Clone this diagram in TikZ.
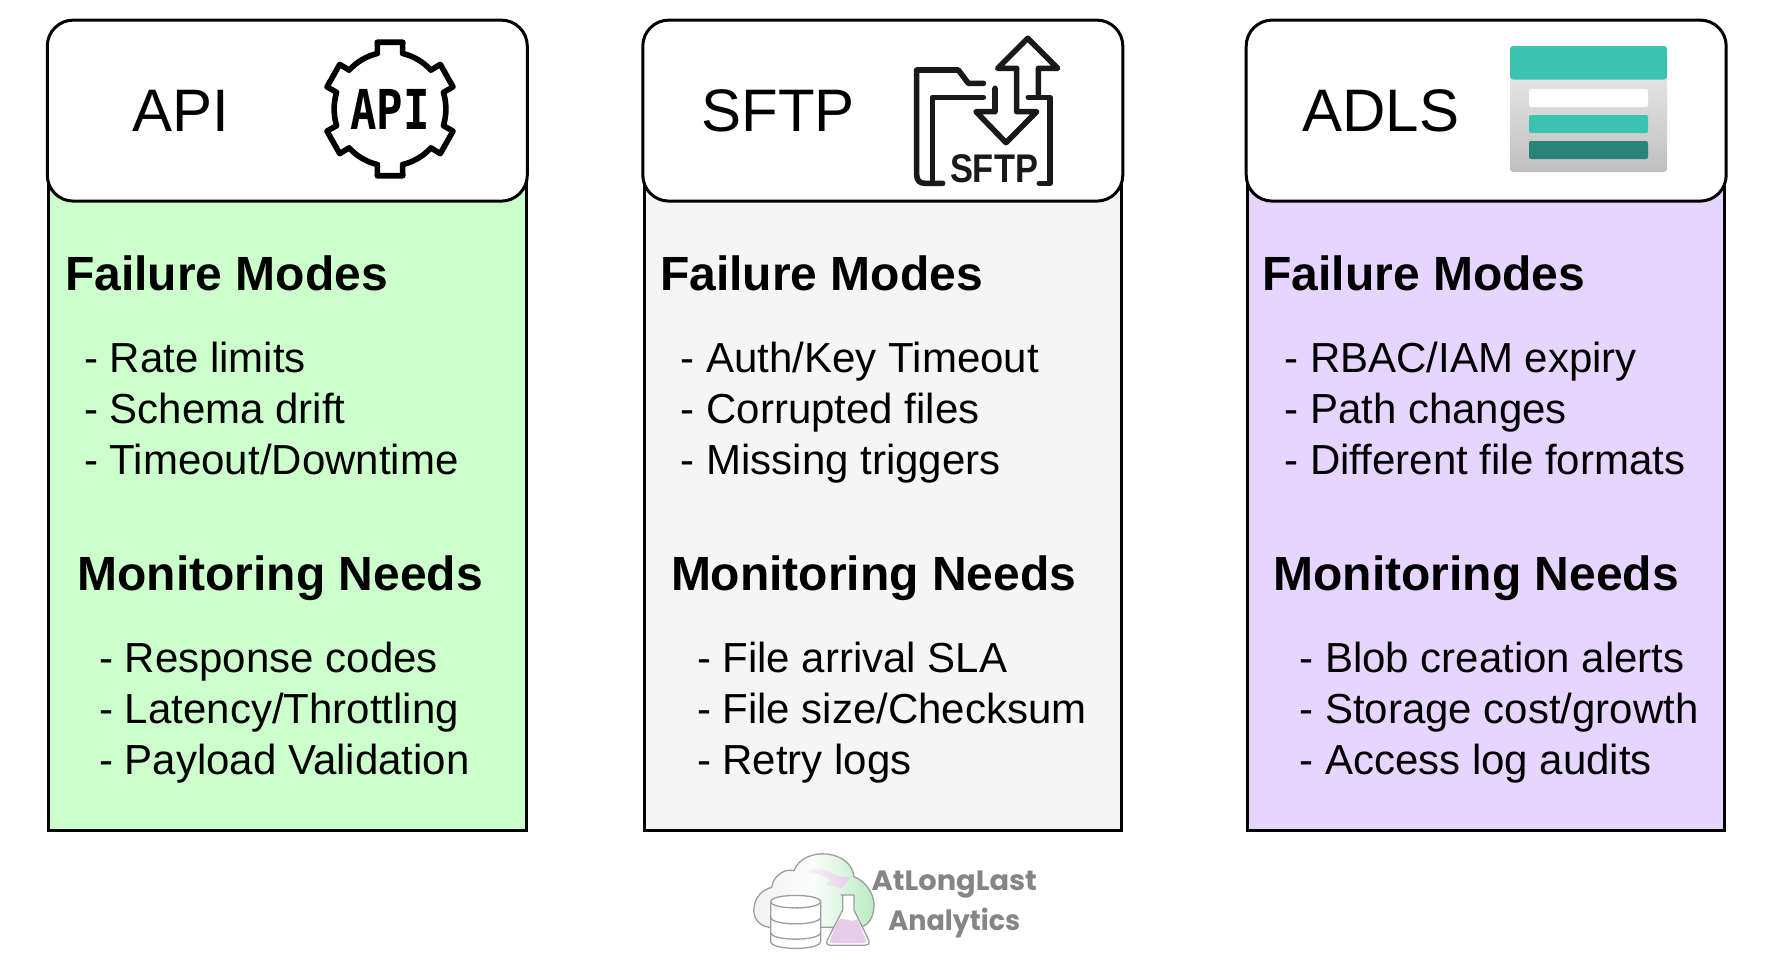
\documentclass[tikz,border=0pt]{standalone}
\usepackage{fontspec}
\setmainfont{Liberation Sans}
\newfontfamily\monofont{DejaVu Sans Mono}
\newfontfamily\logofont{Poppins}
\usepackage{graphicx}
\usetikzlibrary{positioning}

\definecolor{apigreen}{HTML}{CCFFCC}
\definecolor{sftpgrey}{HTML}{F5F5F5}
\definecolor{adlspurple}{HTML}{E5D5FF}
\definecolor{adlsteal}{HTML}{3BC2B0}
\definecolor{adlsdark}{HTML}{27847A}
\definecolor{logogrey}{HTML}{858585}
\definecolor{logogreen}{HTML}{B9ECC0}
\definecolor{logopurple}{HTML}{E6CDE9}

\begin{document}
\begin{tikzpicture}[x=1pt,y=1pt,line width=3pt,
                    node distance=10pt]
  \tikzstyle{cardbody}=[draw=black,minimum width=477.5pt,minimum height=650pt,inner sep=0pt]
  \tikzstyle{cardhead}=[draw=black,fill=white,rounded corners=26pt,minimum width=480pt,minimum height=181pt,inner sep=0pt]
  \tikzstyle{cardname}=[font=\fontsize{60}{72}\selectfont,inner sep=0pt,anchor=base west]
  \tikzstyle{cardtitle}=[font=\fontsize{48}{58}\selectfont\bfseries,inner sep=0pt,anchor=base west]
  \tikzstyle{carditems}=[font=\fontsize{42}{51}\selectfont,inner sep=0pt,align=left,
                     execute at begin node={\rule{0pt}{32pt}}]
  \tikzstyle{icon}=[draw=black,line width=5.6pt,line join=round,line cap=round]
  \tikzstyle{logoline}=[draw=logogrey!80,line width=1.3pt,line join=round]
  \tikzstyle{logotext}=[text=logogrey,font=\logofont\fontsize{28}{34}\selectfont\bfseries,inner sep=0pt]

  \useasboundingbox (0,0) rectangle (1770,-978);

  % cards
  \node[cardbody,fill=apigreen]   (B1) at (287.3,-505) {};
  \node[cardbody,fill=sftpgrey]   (B2) at (882.8,-505) {};
  \node[cardbody,fill=adlspurple] (B3) at (1486.2,-505) {};
  \node[cardhead] (H1) at (287.3,-110.6) {};
  \node[cardhead] (H2) at (882.8,-110.6) {};
  \node[cardhead] (H3) at (1486.2,-110.6) {};

  \node[cardname] (N1) at (131,-131) {API};
  \node[cardname] (N2) at (700,-131) {SFTP};
  \node[cardname] (N3) at (1301,-131) {ADLS};

  % API card text
  \node[cardtitle] (F1) at (63.7,-290.7) {Failure Modes};
  \node[carditems] (FL1) [below right=49.9pt and 19pt of F1.base west]
    {- Rate limits\\- Schema drift\\- Timeout/Downtime};
  \node[cardtitle] (M1) at (76,-590.5) {Monitoring Needs};
  \node[carditems] (ML1) [below right=49.8pt and 21.8pt of M1.base west]
    {- Response codes\\- Latency/Throttling\\- Payload Validation};

  % SFTP card text
  \node[cardtitle] (F2) at (658.5,-290.7) {Failure Modes};
  \node[carditems] (FL2) [below right=49.9pt and 20.9pt of F2.base west]
    {- Auth/Key Timeout\\- Corrupted files\\- Missing triggers};
  \node[cardtitle] (M2) at (669.5,-590.5) {Monitoring Needs};
  \node[carditems] (ML2) [below right=49.8pt and 26pt of M2.base west]
    {- File arrival SLA\\- File size/Checksum\\- Retry logs};

  % ADLS card text
  \node[cardtitle] (F3) at (1261,-290.7) {Failure Modes};
  \node[carditems] (FL3) [below right=49.9pt and 22pt of F3.base west]
    {- RBAC/IAM expiry\\- Path changes\\- Different file formats};
  \node[cardtitle] (M3) at (1272,-590.5) {Monitoring Needs};
  \node[carditems] (ML3) [below right=49.8pt and 26pt of M3.base west]
    {- Blob creation alerts\\- Storage cost/growth\\- Access log audits};

  % gear icon
  \begin{scope}[shift={(390,-109)},x=0.98pt]
    \draw[icon] (77:57) -- (79:68) -- (101:68) -- (103:57)
      arc[start angle=103,end angle=137,radius=57] -- (139:68) -- (161:68) -- (163:57)
      arc[start angle=163,end angle=197,radius=57] -- (199:68) -- (221:68) -- (223:57)
      arc[start angle=223,end angle=257,radius=57] -- (259:68) -- (281:68) -- (283:57)
      arc[start angle=283,end angle=317,radius=57] -- (319:68) -- (341:68) -- (343:57)
      arc[start angle=343,end angle=377,radius=57] -- (19:68) -- (41:68) -- (43:57)
      arc[start angle=43,end angle=77,radius=57] -- cycle;
    \node[inner sep=0pt,font=\monofont\fontsize{55}{60}\selectfont\bfseries] (G1) at (0,0)
      {\scalebox{0.8}[1]{API}};
  \end{scope}

  % folder icon
  \begin{scope}[shift={(900,-20)},x=0.3333pt,y=-0.3333pt]
    \draw[icon,black!90] (250,190) -- (205,190) -- (175,150) -- (50,150) -- (50,465)
      .. controls (50,482) and (60,490) .. (75,490) -- (128,490);
    \draw[icon,black!90] (250,232) -- (97,232) -- (97,490);
    \draw[icon,black!90] (385,232) -- (450,232) -- (450,490) -- (418,490);
    \draw[icon,black!90] (285,205) -- (285,275) -- (228,275) -- (318,368) -- (410,275) -- (350,275)
      -- (350,145) -- (293,145) -- (383,55) -- (473,145) -- (415,145) -- (415,232);
    \node[inner sep=0pt,text=black!90,font=\fontsize{40}{48}\selectfont\bfseries] (G2) at (282,447)
      {\scalebox{0.86}[1]{SFTP}};
  \end{scope}

  % storage icon
  \begin{scope}[line width=0pt]
    \path[top color=black!10,bottom color=black!25,rounded corners=3pt] (1510,-172) rectangle (1667,-74);
    \path[fill=adlsteal,rounded corners=3pt] (1510,-79.5) -- (1510,-46) -- (1667,-46) -- (1667,-79.5) -- cycle;
    \path[fill=white,rounded corners=2pt] (1529,-89) rectangle (1648,-107);
    \path[fill=adlsteal,rounded corners=2pt] (1529,-115) rectangle (1648,-133);
    \path[fill=adlsdark,rounded corners=2pt] (1529,-141) rectangle (1648,-159);
  \end{scope}

  % logo
  \begin{scope}[shift={(730,-830)},x=0.3333pt,y=-0.3333pt]
    \draw[logoline,left color=black!5,right color=logogreen,middle color=logogreen!90!black!5]
      (118,292) .. controls (85,288) and (68,262) .. (72,232)
      .. controls (76,198) and (100,178) .. (125,172)
      .. controls (130,135) and (165,115) .. (192,122)
      .. controls (205,85) and (250,68) .. (290,72)
      .. controls (340,78) and (368,105) .. (372,140)
      .. controls (400,150) and (432,185) .. (432,225)
      .. controls (432,262) and (415,290) .. (385,292) -- cycle;
    \path[left color=white,right color=logopurple] (197,150)
      .. controls (215,112) and (275,105) .. (318,137) -- (362,143) -- (335,175) -- (285,162) -- (302,152)
      .. controls (270,125) and (225,122) .. (197,150) -- cycle;
    \draw[logoline,fill=white] (122,215) -- (122,335)
      .. controls (125,362) and (268,362) .. (272,335) -- (272,215)
      .. controls (268,190) and (125,190) .. (122,215) -- cycle;
    \draw[logoline] (122,215) .. controls (125,240) and (268,240) .. (272,215);
    \draw[logoline] (122,262) .. controls (125,288) and (268,288) .. (272,262);
    \draw[logoline] (122,308) .. controls (125,334) and (268,334) .. (272,308);
    \draw[logoline,fill=white] (332,195) -- (372,195) -- (372,240) -- (416,330)
      .. controls (420,342) and (412,346) .. (405,346) -- (300,346)
      .. controls (292,346) and (288,342) .. (292,330) -- (338,240) -- (338,195);
    \path[fill=logopurple] (325,268) .. controls (345,262) and (365,280) .. (382,268)
      -- (408,330) .. controls (410,338) and (405,340) .. (400,340) -- (308,340)
      .. controls (302,340) and (298,338) .. (300,330) -- cycle;
    \node[logotext] (T1) at (673,164) {\scalebox{1.03}[1]{AtLongLast}};
    \node[logotext] (T2) at (673,278) {\scalebox{0.965}[1]{Analytics}};
  \end{scope}
\end{tikzpicture}
\end{document}
